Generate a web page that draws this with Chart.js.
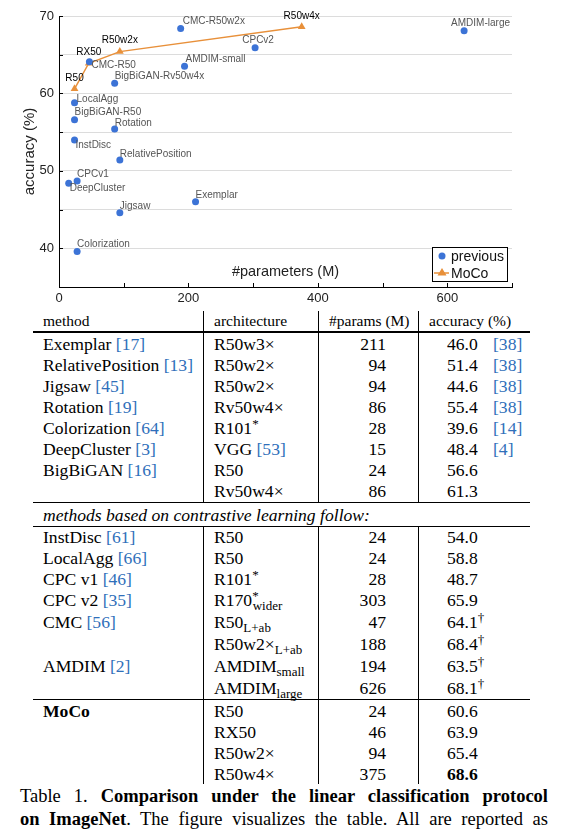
<!DOCTYPE html>
<html>
<head>
<meta charset="utf-8">
<script src="https://cdn.jsdelivr.net/npm/chart.js@4.4.1/dist/chart.umd.min.js"></script>
<style>
html,body{margin:0;padding:0;background:#fff;width:579px;height:835px;overflow:hidden;}
#wrap{position:absolute;left:0;top:0;width:579px;height:311px;}
#c{display:block;}
table.t{position:absolute;left:33px;top:311px;border-collapse:separate;border-spacing:0;table-layout:fixed;width:497px;
  font-family:"Liberation Serif","Times New Roman",serif;font-size:17.6px;color:#000;}
.t td,.t th{padding:0;white-space:nowrap;vertical-align:middle;box-sizing:border-box;line-height:20px;height:21px;}
.t th{font-weight:normal;font-size:15.5px;text-align:left;padding-left:10px;height:22px;border-bottom:2px solid #000;}
.t th+th,.t td+td{border-left:1px solid #000;}
.t td:first-child{padding-left:10px;}
.t td.ar{padding-left:10px;}
.t td.n{text-align:right;padding-right:32px;}
.t td.a{padding-left:28px;}
.t .v{display:inline-block;width:46px;}
.t tr.end td{border-bottom:1px solid #000;height:23px;}
.t tr.h22 td{height:22px;}
.t tr.h20 td{height:20px;}
.t td.it{font-style:italic;height:24px;border-bottom:1px solid #000;padding-left:10px;}
.r{color:#2f6fba;}
.sb{font-size:13px;position:relative;top:4px;line-height:0;}
.sp{font-size:13px;position:relative;top:-6px;line-height:0;}
b{font-weight:bold;}
.cap{position:absolute;left:20px;width:528px;top:785px;font-family:"Liberation Serif","Times New Roman",serif;font-size:18.5px;line-height:23px;color:#000;}
.cap div{text-align:justify;text-align-last:justify;white-space:normal;}
</style>
</head>
<body>
<div id="wrap"><canvas id="c" width="579" height="311" style="width:579px;height:311px"></canvas></div>

<table class="t">
<colgroup><col style="width:170px"><col style="width:115px"><col style="width:100px"><col style="width:112px"></colgroup>
<thead><tr><th>method</th><th>architecture</th><th>#params (M)</th><th>accuracy (%)</th></tr></thead>
<tbody>
<tr><td>Exemplar <span class="r">[17]</span></td><td class="ar">R50w3×</td><td class="n">211</td><td class="a"><span class="v">46.0</span><span class="r">[38]</span></td></tr>
<tr><td>RelativePosition <span class="r">[13]</span></td><td class="ar">R50w2×</td><td class="n">94</td><td class="a"><span class="v">51.4</span><span class="r">[38]</span></td></tr>
<tr><td>Jigsaw <span class="r">[45]</span></td><td class="ar">R50w2×</td><td class="n">94</td><td class="a"><span class="v">44.6</span><span class="r">[38]</span></td></tr>
<tr><td>Rotation <span class="r">[19]</span></td><td class="ar">Rv50w4×</td><td class="n">86</td><td class="a"><span class="v">55.4</span><span class="r">[38]</span></td></tr>
<tr><td>Colorization <span class="r">[64]</span></td><td class="ar">R101<span class="sp">*</span></td><td class="n">28</td><td class="a"><span class="v">39.6</span><span class="r">[14]</span></td></tr>
<tr><td>DeepCluster <span class="r">[3]</span></td><td class="ar">VGG <span class="r">[53]</span></td><td class="n">15</td><td class="a"><span class="v">48.4</span><span class="r">[4]</span></td></tr>
<tr><td>BigBiGAN <span class="r">[16]</span></td><td class="ar">R50</td><td class="n">24</td><td class="a"><span class="v">56.6</span></td></tr>
<tr class="end"><td></td><td class="ar">Rv50w4×</td><td class="n">86</td><td class="a"><span class="v">61.3</span></td></tr>
<tr><td colspan="4" class="it">methods based on contrastive learning follow:</td></tr>
<tr class="h20"><td>InstDisc <span class="r">[61]</span></td><td class="ar">R50</td><td class="n">24</td><td class="a"><span class="v">54.0</span></td></tr>
<tr><td>LocalAgg <span class="r">[66]</span></td><td class="ar">R50</td><td class="n">24</td><td class="a"><span class="v">58.8</span></td></tr>
<tr><td>CPC v1 <span class="r">[46]</span></td><td class="ar">R101<span class="sp">*</span></td><td class="n">28</td><td class="a"><span class="v">48.7</span></td></tr>
<tr class="h22"><td>CPC v2 <span class="r">[35]</span></td><td class="ar">R170<span class="sp">*</span><span class="sb" style="margin-left:-6px">wider</span></td><td class="n">303</td><td class="a"><span class="v">65.9</span></td></tr>
<tr class="h22"><td>CMC <span class="r">[56]</span></td><td class="ar">R50<span class="sb">L+ab</span></td><td class="n">47</td><td class="a"><span class="v">64.1<span class="sp">†</span></span></td></tr>
<tr class="h22"><td></td><td class="ar">R50w2×<span class="sb">L+ab</span></td><td class="n">188</td><td class="a"><span class="v">68.4<span class="sp">†</span></span></td></tr>
<tr class="h22"><td>AMDIM <span class="r">[2]</span></td><td class="ar">AMDIM<span class="sb">small</span></td><td class="n">194</td><td class="a"><span class="v">63.5<span class="sp">†</span></span></td></tr>
<tr class="end"><td></td><td class="ar">AMDIM<span class="sb">large</span></td><td class="n">626</td><td class="a"><span class="v">68.1<span class="sp">†</span></span></td></tr>
<tr><td><b>MoCo</b></td><td class="ar">R50</td><td class="n">24</td><td class="a"><span class="v">60.6</span></td></tr>
<tr><td></td><td class="ar">RX50</td><td class="n">46</td><td class="a"><span class="v">63.9</span></td></tr>
<tr><td></td><td class="ar">R50w2×</td><td class="n">94</td><td class="a"><span class="v">65.4</span></td></tr>
<tr><td></td><td class="ar">R50w4×</td><td class="n">375</td><td class="a"><span class="v"><b>68.6</b></span></td></tr>
</tbody>
</table>

<div class="cap">
<div>Table 1. <b>Comparison under the linear classification protocol</b></div>
<div><b>on ImageNet</b>. The figure visualizes the table. All are reported as</div>
</div>

<script>
// ---- data ----
const prevNames  = ['Exemplar','RelativePosition','Jigsaw','Rotation','Colorization','DeepCluster','BigBiGAN-R50','BigBiGAN-Rv50w4x','InstDisc','LocalAgg','CPCv1','CPCv2','CMC-R50','CMC-R50w2x','AMDIM-small','AMDIM-large'];
const prevParams = [211, 94, 94, 86, 28, 15, 24, 86, 24, 24, 28, 303, 47, 188, 194, 626];
const prevAcc    = [46.0, 51.4, 44.6, 55.4, 39.6, 48.4, 56.6, 61.3, 54.0, 58.8, 48.7, 65.9, 64.1, 68.4, 63.5, 68.1];
const mocoNames  = ['R50','RX50','R50w2x','R50w4x'];
const mocoParams = [24, 46, 94, 375];
const mocoAcc    = [60.6, 63.9, 65.4, 68.6];
const xLabeledTicks = [0, 200, 400, 600];
const yLabeledTicks = [40, 50, 60, 70];

// ---- label placement (style only): [dx, dy, align] ----
const prevLabelPlace = [
  [0,-7,'left'], [0,-6,'left'], [0,-6,'left'], [0,-6,'left'], [0,-7,'left'], [1,5,'left'],
  [0,-8,'left'], [0,-7,'left'], [1,5,'left'], [2,-3,'left'], [0,-7,'left'], [3,-7,'center'],
  [2,4,'left'], [2,-7,'left'], [1,-7,'left'], [-13,-7,'left']
];

const BLUE = '#3c73d6';
const ORANGE = '#e8903a';
const SANS = '"Liberation Sans", Arial, sans-serif';

const inwardTicks = {
  id: 'inwardTicks',
  afterDraw(chart) {
    const {ctx, chartArea: a, scales: {x, y}} = chart;
    ctx.save();
    ctx.strokeStyle = '#000';
    ctx.lineWidth = 1;
    ctx.beginPath();
    x.ticks.forEach(t => {
      const px = Math.round(x.getPixelForValue(t.value)) + 0.5;
      ctx.moveTo(px, a.bottom); ctx.lineTo(px, a.bottom - 4);
    });
    y.ticks.forEach(t => {
      const py = Math.round(y.getPixelForValue(t.value)) + 0.5;
      ctx.moveTo(a.left, py); ctx.lineTo(a.left + 4, py);
    });
    ctx.stroke();
    ctx.restore();
  }
};

const pointLabels = {
  id: 'pointLabels',
  afterDatasetsDraw(chart) {
    const ctx = chart.ctx;
    ctx.save();
    ctx.textBaseline = 'middle';
    ctx.font = '10px ' + SANS;
    ctx.fillStyle = '#555';
    chart.getDatasetMeta(0).data.forEach((el, i) => {
      const [dx, dy, al] = prevLabelPlace[i];
      ctx.textAlign = al;
      ctx.fillText(prevNames[i], el.x + dx, el.y + dy);
    });
    ctx.fillStyle = '#000';
    ctx.textAlign = 'center';
    chart.getDatasetMeta(1).data.forEach((el, i) => {
      ctx.fillText(mocoNames[i], el.x, el.y - 11);
    });
    ctx.restore();
  }
};

const boxLegend = {
  id: 'boxLegend',
  afterDraw(chart) {
    const {ctx, chartArea: a} = chart;
    const ds = chart.data.datasets;
    const L = a.right - 80, T = a.bottom - 40, W = 75, H = 34;
    ctx.save();
    ctx.fillStyle = '#fff';
    ctx.fillRect(L, T, W, H);
    ctx.strokeStyle = '#000';
    ctx.lineWidth = 1;
    ctx.strokeRect(L + 0.5, T + 0.5, W, H);
    ctx.font = '14px ' + SANS;
    ctx.textBaseline = 'middle';
    ctx.textAlign = 'left';
    ctx.fillStyle = ds[0].backgroundColor;
    ctx.beginPath(); ctx.arc(L + 10, T + 9, 3.5, 0, Math.PI * 2); ctx.fill();
    ctx.fillStyle = '#111';
    ctx.fillText(ds[0].label, L + 19, T + 10);
    ctx.strokeStyle = ds[1].borderColor;
    ctx.lineWidth = 1.5;
    ctx.beginPath(); ctx.moveTo(L + 2, T + 26); ctx.lineTo(L + 17, T + 26); ctx.stroke();
    ctx.fillStyle = ds[1].backgroundColor;
    ctx.beginPath(); ctx.moveTo(L + 10, T + 21); ctx.lineTo(L + 14.5, T + 28.5); ctx.lineTo(L + 5.5, T + 28.5); ctx.closePath(); ctx.fill();
    ctx.fillStyle = '#111';
    ctx.fillText(ds[1].label, L + 19, T + 27);
    ctx.restore();
  }
};

new Chart(document.getElementById('c'), {
  type: 'scatter',
  data: {
    datasets: [
      {
        label: 'previous',
        data: prevParams.map((x, i) => ({x, y: prevAcc[i]})),
        backgroundColor: BLUE, borderColor: BLUE,
        pointRadius: 3.5, pointBorderWidth: 0, showLine: false, order: 1
      },
      {
        label: 'MoCo',
        data: mocoParams.map((x, i) => ({x, y: mocoAcc[i]})),
        backgroundColor: ORANGE, borderColor: ORANGE,
        borderWidth: 1.5, pointStyle: 'triangle', pointRadius: 4.5, pointBorderWidth: 0,
        showLine: true, order: 2
      }
    ]
  },
  options: {
    responsive: false, maintainAspectRatio: false, animation: false,
    layout: {padding: {left: 0, right: 67, top: 16, bottom: 0}},
    plugins: {legend: {display: false}, tooltip: {enabled: false}},
    scales: {
      x: {
        type: 'linear', min: 0, max: 700,
        ticks: {stepSize: 100, autoSkip: false, maxRotation: 0, padding: 4, color: '#222',
          font: {family: SANS, size: 13},
          callback: v => xLabeledTicks.includes(v) ? String(v) : ''},
        grid: {display: false, drawTicks: false},
        border: {display: true, color: '#000', width: 1},
        title: {display: true, text: '#parameters (M)', color: '#222',
          font: {family: SANS, size: 14.5}, padding: {top: 0, bottom: 30}},
        afterFit(s) { s.height = 24; }
      },
      y: {
        min: 35, max: 70,
        ticks: {stepSize: 5, autoSkip: false, padding: 5, color: '#222',
          font: {family: SANS, size: 13},
          callback: v => yLabeledTicks.includes(v) ? String(v) : ''},
        grid: {color: '#dcdcdc', lineWidth: 1, drawTicks: false},
        border: {display: true, color: '#000', width: 1},
        title: {display: true, text: 'accuracy (%)', color: '#222',
          font: {family: SANS, size: 15}, padding: {top: 21, bottom: 0}},
        afterFit(s) { s.width = 59; }
      }
    }
  },
  plugins: [inwardTicks, pointLabels, boxLegend]
});
</script>
</body>
</html>
